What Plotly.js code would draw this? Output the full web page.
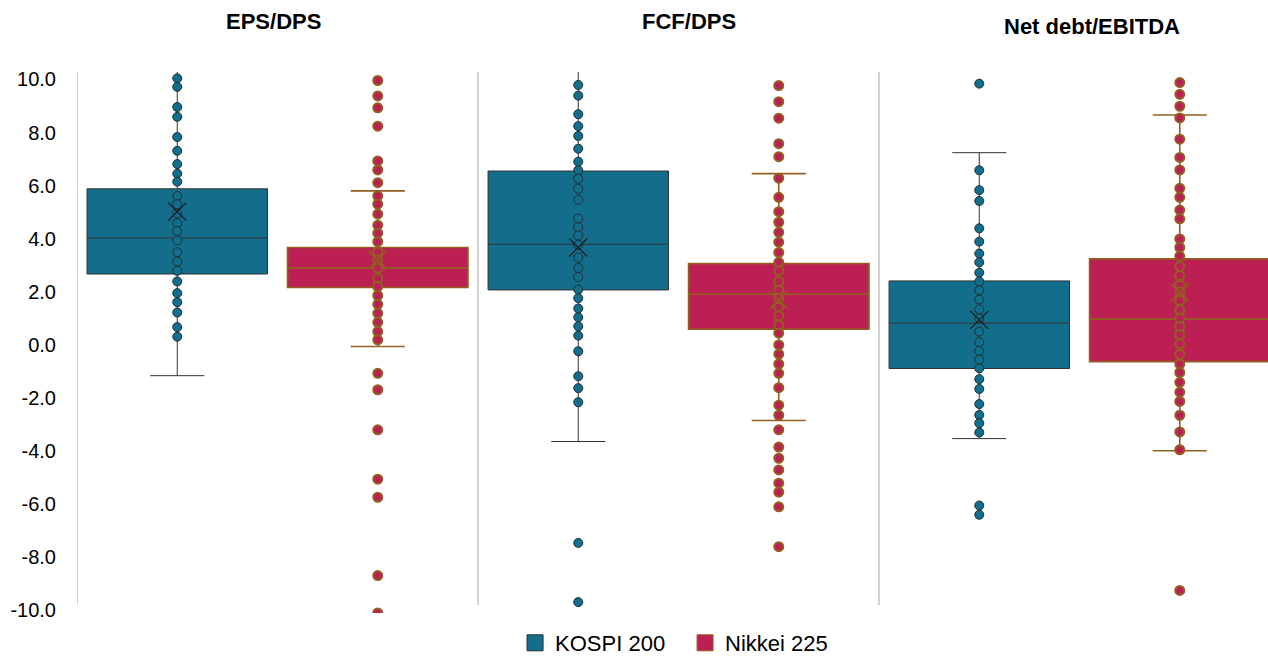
<!DOCTYPE html>
<html>
<head>
<meta charset="utf-8">
<script src="https://cdn.plot.ly/plotly-3.0.1.min.js"></script>
<style>html,body{margin:0;padding:0;background:#fff;}#chart{width:1268px;height:664px;}</style>
</head>
<body>
<div id="chart"></div>
<script>
// ---------- DATA ----------
const groups = ['EPS/DPS', 'FCF/DPS', 'Net debt/EBITDA'];
const seriesNames = ['KOSPI 200', 'Nikkei 225'];

const kospiEpsDps = [10.04, 9.72, 8.96, 8.59, 7.83, 7.31, 6.81, 6.45, 6.15, 5.61, 5.30, 4.95, 4.58, 4.29, 3.94, 3.49, 3.14, 2.79, 2.39, 1.95, 1.61, 1.22, 0.67, 0.31];
const nikkeiEpsDps = [9.96, 9.38, 8.93, 8.24, 6.93, 6.59, 6.11, 5.61, 5.30, 4.93, 4.51, 4.21, 3.89, 3.51, 3.20, 2.89, 2.51, 2.20, 1.86, 1.53, 1.19, 0.85, 0.50, 0.19, -1.07, -1.69, -3.20, -5.06, -5.74, -8.69, -10.10];
const kospiFcfDps = [9.79, 9.39, 8.69, 8.24, 7.87, 7.39, 6.90, 6.58, 6.26, 5.88, 5.47, 4.76, 4.43, 4.12, 3.77, 3.29, 2.90, 2.56, 2.08, 1.76, 1.37, 1.04, 0.70, 0.35, -0.24, -1.18, -1.63, -2.16, -7.46, -9.69];
const nikkeiFcfDps = [9.77, 9.16, 8.54, 7.58, 7.09, 6.28, 5.56, 5.02, 4.62, 4.24, 3.87, 3.48, 3.11, 2.79, 2.39, 2.07, 1.76, 1.42, 1.10, 0.75, 0.44, 0.00, -0.35, -0.72, -1.07, -1.61, -2.27, -2.65, -3.20, -3.85, -4.27, -4.71, -5.21, -5.55, -6.10, -7.60];
const kospiNetDebt = [9.84, 6.58, 5.83, 5.42, 4.39, 3.89, 3.44, 3.11, 2.72, 2.39, 2.06, 1.71, 1.34, 1.00, 0.50, 0.10, -0.23, -0.56, -0.88, -1.29, -1.66, -2.23, -2.64, -2.95, -3.30, -6.05, -6.40];
const nikkeiNetDebt = [9.88, 9.44, 8.99, 8.55, 7.75, 7.06, 6.59, 5.90, 5.56, 5.08, 4.75, 3.99, 3.67, 3.34, 2.95, 2.61, 2.26, 1.99, 1.67, 1.32, 1.00, 0.69, 0.38, 0.03, -0.35, -0.72, -1.04, -1.41, -1.78, -2.13, -2.65, -3.28, -3.95, -9.25];

// box statistics per group (EPS/DPS, FCF/DPS, Net debt/EBITDA)
const kospiQ1 = [2.67, 2.07, -0.89];
const kospiMedian = [4.03, 3.79, 0.82];
const kospiQ3 = [5.88, 6.55, 2.41];
const kospiLower = [-1.16, -3.64, -3.53];
const kospiUpper = [10.5, 10.5, 7.24];
const kospiMean = [5.02, 3.67, 0.94];

const nikkeiQ1 = [2.16, 0.59, -0.63];
const nikkeiMedian = [2.89, 1.91, 0.97];
const nikkeiQ3 = [3.67, 3.06, 3.24];
const nikkeiLower = [-0.06, -2.85, -3.99];
const nikkeiUpper = [5.80, 6.45, 8.66];
const nikkeiMean = [3.20, 1.69, 1.97];

const yTickVals = [10, 8, 6, 4, 2, 0, -2, -4, -6, -8, -10];
const yTickLabels = ['10.0', '8.0', '6.0', '4.0', '2.0', '0.0', '-2.0', '-4.0', '-6.0', '-8.0', '-10.0'];

// ---------- STYLE ----------
const TEAL = '#136e8b';
const CRIMSON = '#bb1f53';
const BROWN = '#935f20';
const DARK = '#1e2e38';
const FONT = 'Liberation Sans, Arial, Helvetica, sans-serif';

const kospiPts = [kospiEpsDps, kospiFcfDps, kospiNetDebt];
const nikkeiPts = [nikkeiEpsDps, nikkeiFcfDps, nikkeiNetDebt];
const kospiPos = groups.map((g, i) => 2 * i + 0.5);
const nikkeiPos = groups.map((g, i) => 2 * i + 1.5);

function flatten(ptsArr, pos) {
  const xs = [], ys = [];
  ptsArr.forEach((arr, i) => arr.forEach(v => { xs.push(pos[i]); ys.push(v); }));
  return {xs, ys};
}
const kF = flatten(kospiPts, kospiPos);
const nF = flatten(nikkeiPts, nikkeiPos);

const traces = [
  {
    type: 'box', x: kospiPos, q1: kospiQ1, median: kospiMedian, q3: kospiQ3,
    lowerfence: kospiLower, upperfence: kospiUpper,
    width: 0.9, whiskerwidth: 0.3, boxpoints: false,
    fillcolor: TEAL, line: {color: '#333333', width: 1},
    showlegend: false, hoverinfo: 'skip'
  },
  {
    type: 'box', x: nikkeiPos, q1: nikkeiQ1, median: nikkeiMedian, q3: nikkeiQ3,
    lowerfence: nikkeiLower, upperfence: nikkeiUpper,
    width: 0.9, whiskerwidth: 0.3, boxpoints: false,
    fillcolor: CRIMSON, line: {color: BROWN, width: 1.6},
    showlegend: false, hoverinfo: 'skip'
  },
  {
    type: 'scatter', mode: 'markers', x: kF.xs, y: kF.ys, showlegend: false,
    marker: {color: TEAL, size: 9, line: {color: DARK, width: 1}}, hoverinfo: 'skip'
  },
  {
    type: 'scatter', mode: 'markers', x: nF.xs, y: nF.ys, showlegend: false,
    marker: {color: CRIMSON, size: 9, line: {color: BROWN, width: 2}}, hoverinfo: 'skip'
  },
  {
    type: 'scatter', mode: 'markers', x: kospiPos, y: kospiMean, showlegend: false,
    marker: {symbol: 'x-thin-open', size: 18, color: '#1a1a1a', line: {color: '#1a1a1a', width: 1.2}}, hoverinfo: 'skip'
  },
  {
    type: 'scatter', mode: 'markers', x: nikkeiPos, y: nikkeiMean, showlegend: false,
    marker: {symbol: 'x-thin-open', size: 18, color: BROWN, line: {color: BROWN, width: 1.6}}, hoverinfo: 'skip'
  },
  {
    type: 'scatter', mode: 'markers', x: [null], y: [null], name: seriesNames[0],
    marker: {symbol: 'square', size: 16, color: TEAL, line: {color: DARK, width: 1}}
  },
  {
    type: 'scatter', mode: 'markers', x: [null], y: [null], name: seriesNames[1],
    marker: {symbol: 'square', size: 16, color: CRIMSON, line: {color: BROWN, width: 1}}
  }
];

const sepShapes = [0, 2, 4].map(xv => ({
  type: 'line', xref: 'x', yref: 'y', x0: xv, x1: xv, y0: -9.8, y1: 10.28,
  line: {color: '#a6a6a6', width: 1}, layer: 'below'
}));

const titleX = [0.98, 3.05, 5.06];
const titleY = [1.093, 1.093, 1.084];
const annotations = groups.map((g, i) => ({
  xref: 'x', yref: 'paper', x: titleX[i], y: titleY[i], xanchor: 'center', yanchor: 'middle',
  text: '<b>' + g + '</b>', showarrow: false,
  font: {family: FONT, size: 22, color: '#000'}
}));

const layout = {
  width: 1268, height: 664,
  margin: {l: 77, r: 0, t: 72, b: 51, pad: 0, autoexpand: false},
  paper_bgcolor: '#fff', plot_bgcolor: '#fff',
  font: {family: FONT, size: 20, color: '#000'},
  showlegend: true,
  legend: {
    orientation: 'h', x: 0.3678, xanchor: 'left', y: 0.0, yref: 'container', yanchor: 'bottom',
    font: {family: FONT, size: 22, color: '#000'}, itemwidth: 30, bgcolor: 'rgba(0,0,0,0)',
    entrywidth: 125, entrywidthmode: 'pixels'
  },
  xaxis: {range: [0, 5.94], visible: false, fixedrange: true},
  yaxis: {
    range: [-10.1, 10.28], tickmode: 'array', tickvals: yTickVals, ticktext: yTickLabels,
    showgrid: false, zeroline: false, showline: false,
    ticks: 'outside', ticklen: 16, tickcolor: 'rgba(0,0,0,0)',
    tickfont: {family: FONT, size: 20, color: '#000'}
  },
  shapes: sepShapes,
  annotations: annotations
};

Plotly.newPlot('chart', traces, layout, {displayModeBar: false, staticPlot: true});
</script>
</body>
</html>
